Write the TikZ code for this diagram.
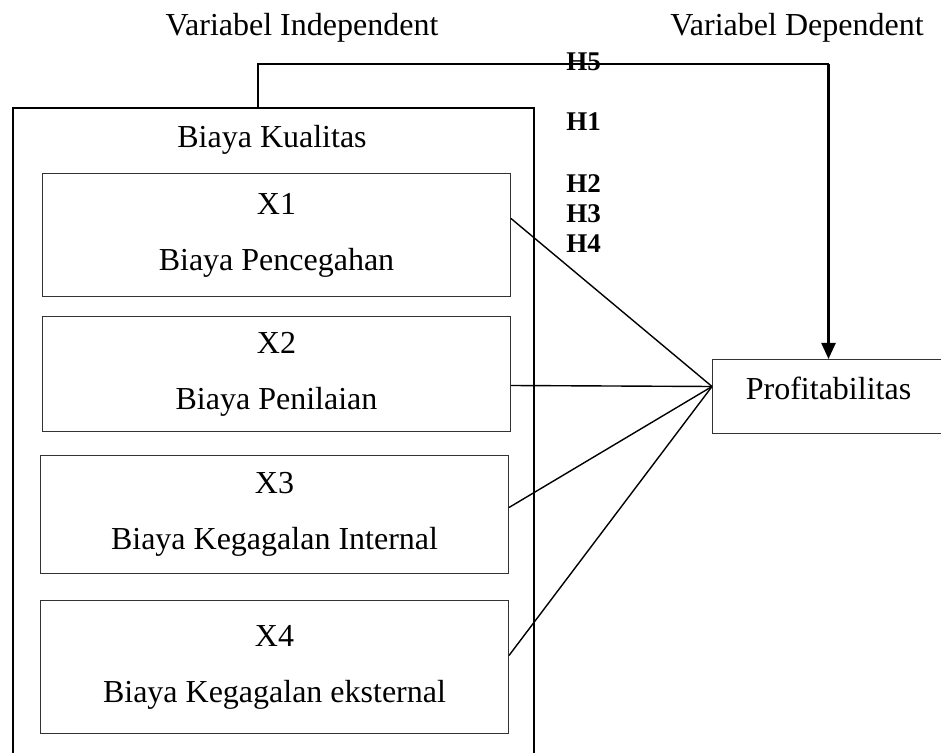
\documentclass[tikz,border=0pt]{standalone}
\usepackage{fontspec}
\setmainfont{Liberation Serif}
\usetikzlibrary{arrows.meta,positioning,calc}

\begin{document}
\begin{tikzpicture}[
    x=0.5pt, y=-0.5pt,
    font=\fontsize{16}{19}\selectfont,
    varbox/.style={rectangle, draw=black!80, line width=0.5pt, minimum width=234pt, align=center, inner sep=0pt},
    framebox/.style={rectangle, draw, line width=1pt, minimum width=260.5pt, minimum height=329pt, inner sep=0pt},
    hlabel/.style={anchor=west, inner sep=0pt, font=\fontsize{13.5}{16}\selectfont\bfseries},
    link/.style={line width=0.7pt},
    arrow/.style={-{Triangle[width=7pt,length=8pt]}, line width=1.2pt}
]
\useasboundingbox (0,0) rectangle (941,753);

% Header
\node (indep) at (302,28) {Variabel Independent};
\node (dep) at (797,28) {Variabel Dependent};

% Independent block
\node[framebox, anchor=north west] (kualitas) at (12,107) {};
\node (kualitaslbl) at (272,140) {Biaya Kualitas};

\node[varbox, minimum height=61.5pt, anchor=north west] (x1) at (42,173) {X1\\[9pt]Biaya Pencegahan};
\node[varbox, minimum height=57.5pt, anchor=north west] (x2) at (42,316) {X2\\[9pt]Biaya Penilaian};
\node[varbox, minimum height=59pt, anchor=north west] (x3) at (40,455) {X3\\[9pt]Biaya Kegagalan Internal};
\node[varbox, minimum height=66.5pt, anchor=north west] (x4) at (40,600) {X4\\[9pt]Biaya Kegagalan eksternal};

% Dependent
\node[varbox, minimum width=116pt, text height=19.8pt, text depth=17.2pt, anchor=north west] (prof) at (712,359) {Profitabilitas};
\coordinate (hub) at ($(prof.west)+(0,-10)$);
\coordinate (h5top) at (0,64);
\coordinate (h5turn) at (prof.north |- h5top);

% Hypotheses
\node[hlabel] (h5) at (566,62) {H5};
\node[hlabel] (h1) at (566,122) {H1};
\node[hlabel] (h2) at (566,184) {H2};
\node[hlabel] (h3) at (566,214) {H3};
\node[hlabel] (h4) at (566,244) {H4};

% Links
\draw[link] ($(x1.east)+(0,-16.5)$) -- (hub);
\draw[link] ($(x2.east)+(0,11.5)$) -- (hub);
\draw[link] ($(x3.east)+(0,-7)$) -- (hub);
\draw[link] ($(x4.east)+(0,-11.5)$) -- (hub);

\draw[link, line width=0.8pt] ($(kualitas.north)+(-15.5,0)$) |- (h5turn);
\draw[arrow] (h5turn) -- (prof.north);

\end{tikzpicture}
\end{document}
